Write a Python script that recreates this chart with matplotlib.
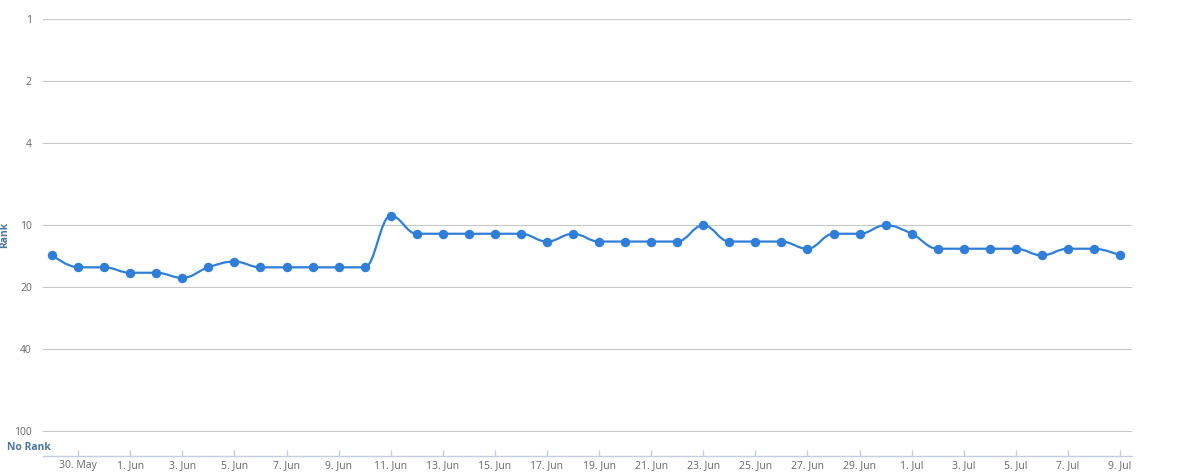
import matplotlib
matplotlib.use("Agg")
import matplotlib.pyplot as plt
import matplotlib.dates as mdates
from matplotlib.path import Path
from matplotlib.patches import PathPatch
import numpy as np
import pandas as pd

plt.rcParams['font.family'] = ['Open Sans', 'DejaVu Sans']

# daily rank, 29 May .. 9 Jul
dates = pd.date_range('2017-05-29', '2017-07-09', freq='D')
ranks = [14, 16, 16, 17, 17, 18, 16, 15, 16, 16, 16, 16, 16,
         9, 11, 11, 11, 11, 11, 12, 11, 12, 12, 12, 12, 10, 12, 12, 12,
         13, 11, 11, 10, 11, 13, 13, 13, 13, 14, 13, 13, 14]
y_ticks = [1, 2, 4, 10, 20, 40, 100]

LINE = '#2f7ed8'
GRID = '#c8c8c8'
LABEL = '#666666'
TITLE = '#4d759e'


def spline_path(xs, ys, smoothing=1.5):
    # highcharts-style spline, computed in (x, log10 y) space
    ly = np.log10(ys)
    n = len(xs)
    denom = smoothing + 1
    lc = [None] * n
    rc = [None] * n
    for i in range(1, n - 1):
        px, py = xs[i], ly[i]
        lx_, lyp = xs[i - 1], ly[i - 1]
        nx_, nyp = xs[i + 1], ly[i + 1]
        lcx = (smoothing * px + lx_) / denom
        lcy = (smoothing * py + lyp) / denom
        rcx = (smoothing * px + nx_) / denom
        rcy = (smoothing * py + nyp) / denom
        corr = (rcy - lcy) * (rcx - px) / (rcx - lcx) + py - rcy
        lcy += corr
        rcy += corr
        if lcy > lyp and lcy > py:
            lcy = max(lyp, py)
            rcy = 2 * py - lcy
        elif lcy < lyp and lcy < py:
            lcy = min(lyp, py)
            rcy = 2 * py - lcy
        if rcy > nyp and rcy > py:
            rcy = max(nyp, py)
            lcy = 2 * py - rcy
        elif rcy < nyp and rcy < py:
            rcy = min(nyp, py)
            lcy = 2 * py - rcy
        lc[i] = (lcx, lcy)
        rc[i] = (rcx, rcy)
    verts = [(xs[0], ly[0])]
    codes = [Path.MOVETO]
    for i in range(1, n):
        a = rc[i - 1] if rc[i - 1] is not None else (xs[i - 1], ly[i - 1])
        b = lc[i] if lc[i] is not None else (xs[i], ly[i])
        verts += [a, b, (xs[i], ly[i])]
        codes += [Path.CURVE4] * 3
    verts = [(vx, 10 ** vy) for vx, vy in verts]
    return Path(verts, codes)


fig = plt.figure(figsize=(12, 4.75), dpi=100)
ax = fig.add_axes([43 / 1200, 19.5 / 475, (1132 - 43) / 1200, (455.5 - 19) / 475])

xnum = mdates.date2num(dates)
ax.set_yscale('log')
ax.set_ylim(130.8, 1)
ax.set_xlim(xnum[0] - 0.35, xnum[-1] + 0.46)

for t in y_ticks:
    ax.axhline(t, color=GRID, lw=0.8, zorder=1)

ax.add_patch(PathPatch(spline_path(xnum, ranks), fill=False, edgecolor=LINE,
                       lw=1.6, zorder=3, capstyle='round', joinstyle='round'))
ax.plot(xnum, ranks, linestyle='none', marker='o', ms=5.8, color=LINE, zorder=4)

ax.set_yticks(y_ticks)
ax.set_yticklabels([str(t) for t in y_ticks])
ax.yaxis.set_minor_locator(matplotlib.ticker.NullLocator())
ax.tick_params(axis='y', length=0, pad=8, labelsize=7.5, labelcolor=LABEL)

xt = xnum[1::2]
ax.set_xticks(xt)
ax.set_xticklabels([f"{d.day}. {d.strftime('%b')}" for d in dates[1::2]])
ax.tick_params(axis='x', direction='in', length=4, width=1, color='#c0d0e0',
               pad=3, labelsize=7.5, labelcolor=LABEL)

for s in ['top', 'left', 'right']:
    ax.spines[s].set_visible(False)
ax.spines['bottom'].set_color('#c0d0e0')
ax.spines['bottom'].set_linewidth(1)

fig.text(5 / 1200, 1 - 235 / 475, 'Rank', rotation=90, ha='center', va='center',
         fontsize=7.5, fontweight='bold', color=TITLE)
fig.text(7 / 1200, 1 - 448 / 475, 'No Rank', ha='left', va='center',
         fontsize=7.5, fontweight='bold', color=TITLE)

fig.savefig('out.png', dpi=100)
